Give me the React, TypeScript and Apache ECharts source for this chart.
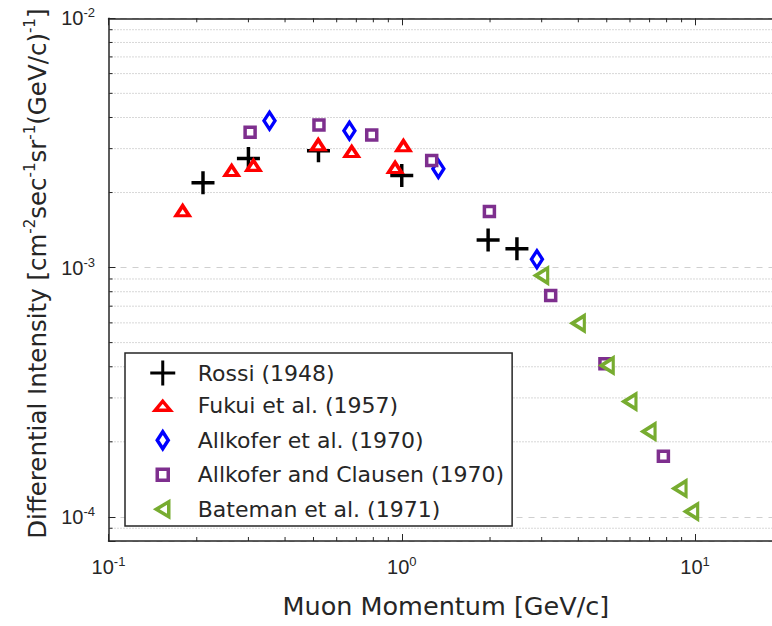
import React, { useEffect, useRef } from 'react';
import * as echarts from 'echarts';

// ---- data ----
const seriesNames = [
  'Rossi (1948)',
  'Fukui et al. (1957)',
  'Allkofer et al. (1970)',
  'Allkofer and Clausen (1970)',
  'Bateman et al. (1971)',
];

const rossiX = [0.21, 0.30, 0.52, 1.0, 1.97, 2.47];
const rossiY = [2.19e-3, 2.74e-3, 2.94e-3, 2.34e-3, 1.29e-3, 1.19e-3];

const fukuiX = [0.179, 0.263, 0.312, 0.519, 0.675, 0.949, 1.013];
const fukuiY = [1.69e-3, 2.45e-3, 2.57e-3, 3.11e-3, 2.92e-3, 2.52e-3, 3.08e-3];

const allkoferX = [0.354, 0.663, 1.333, 2.89];
const allkoferY = [3.88e-3, 3.54e-3, 2.49e-3, 1.08e-3];

const clausenX = [0.304, 0.522, 0.79, 1.265, 1.99, 3.22, 4.93, 7.8];
const clausenY = [3.49e-3, 3.73e-3, 3.4e-3, 2.69e-3, 1.68e-3, 7.72e-4, 4.11e-4, 1.75e-4];

const batemanX = [3.0, 4.0, 5.02, 6.0, 6.97, 8.89, 9.74];
const batemanY = [9.29e-4, 5.98e-4, 4.05e-4, 2.9e-4, 2.2e-4, 1.3e-4, 1.05e-4];

// minor tick positions of the log axes
const xMinorTicks = [0.2, 0.3, 0.4, 0.5, 0.6, 0.7, 0.8, 0.9, 2, 3, 4, 5, 6, 7, 8, 9];
const yMinorTicks = [
  9e-5,
  2e-4, 3e-4, 4e-4, 5e-4, 6e-4, 7e-4, 8e-4, 9e-4,
  2e-3, 3e-3, 4e-3, 5e-3, 6e-3, 7e-3, 8e-3, 9e-3,
];

const xRange = [0.1, 20];
const yRange = [8e-5, 1e-2];

// ---- styles ----
const TEXT = '#262626';
const TITLE_FONT = 'DejaVu Sans';
const TICK_FONT = 'Liberation Sans, Arial, sans-serif';
const STROKE = 3.5;

const zip = (xs: number[], ys: number[]) => xs.map((x, i) => [x, ys[i]]);

const PLUS = 'path://M0,8.5H8.5V0H11.5V8.5H20V11.5H11.5V20H8.5V11.5H0Z';

const powLabel = (v: number) => {
  const l = Math.log10(v);
  const e = Math.round(l);
  if (Math.abs(l - e) > 1e-6) return '';
  return `{b|10}{s|${e}}`;
};

const tickRich = {
  b: { fontFamily: TICK_FONT, fontSize: 20, lineHeight: 24, color: TEXT },
  s: { fontFamily: TICK_FONT, fontSize: 13, lineHeight: 12, verticalAlign: 'top', color: TEXT },
};

const titleRich = {
  b: { fontFamily: TITLE_FONT, fontSize: 24.5, lineHeight: 30, color: TEXT },
  s: { fontFamily: TITLE_FONT, fontSize: 15, lineHeight: 16, verticalAlign: 'top', color: TEXT },
};

const yTitle =
  '{b|Differential Intensity [cm}{s|-2}{b|sec}{s|-1}{b|sr}{s|-1}{b|(GeV/c)}{s|-1}{b|]}';

export default function App() {
  const ref = useRef<HTMLDivElement>(null);

  useEffect(() => {
    const chart = echarts.init(ref.current!, null, { renderer: 'svg' });

    const option: any = {
      animation: false,
      backgroundColor: '#fff',
      grid: { left: 108.5, top: 18.3, right: 16.7, bottom: 84.8, containLabel: false },
      legend: {
        orient: 'vertical',
        left: 125,
        top: 353,
        padding: [7, 8, 2, 23],
        itemGap: 5,
        itemWidth: 60,
        itemHeight: 26,
        borderColor: TEXT,
        borderWidth: 1.5,
        backgroundColor: '#fff',
        z: 10,
        selectedMode: false,
        textStyle: { fontFamily: TITLE_FONT, fontSize: 22, lineHeight: 26, color: TEXT },
        data: [
          {
            name: seriesNames[0],
            icon: 'path://M0,0M26,26M0.5,11.5H11.5V0.5H14.5V11.5H25.5V14.5H14.5V25.5H11.5V14.5H0.5Z',
            itemStyle: { borderWidth: 0 },
          },
          { name: seriesNames[1], icon: 'path://M0,0M26,26M13,8.5L20.5,17.5L5.5,17.5Z', itemStyle: { borderWidth: STROKE } },
          { name: seriesNames[2], icon: 'path://M0,0M26,26M13,4.5L18.5,13L13,21.5L7.5,13Z', itemStyle: { borderWidth: STROKE } },
          { name: seriesNames[3], icon: 'path://M0,0M26,26M7.5,7.5H18.5V18.5H7.5Z', itemStyle: { borderWidth: STROKE } },
          { name: seriesNames[4], icon: 'path://M0,0M26,26M6.5,13L19,5.5L19,20.5Z', itemStyle: { borderWidth: STROKE } },
        ],
      },
      xAxis: [
        {
          type: 'log',
          logBase: 10,
          min: xRange[0],
          max: xRange[1],
          position: 'bottom',
          axisLine: { lineStyle: { color: TEXT, width: 1.5 } },
          axisTick: { inside: true, length: 7, lineStyle: { color: TEXT, width: 1 } },
          axisLabel: { formatter: powLabel, margin: 14, color: TEXT, rich: tickRich },
          splitLine: { show: false },
          name: 'Muon Momentum [GeV/c]',
          nameLocation: 'middle',
          nameGap: 50,
          nameTextStyle: { fontFamily: TITLE_FONT, fontSize: 25.5, lineHeight: 30, color: TEXT },
        },
        {
          type: 'log',
          logBase: 10,
          min: xRange[0],
          max: xRange[1],
          position: 'top',
          axisLine: { lineStyle: { color: TEXT, width: 1.5 } },
          axisTick: { inside: true, length: 7, lineStyle: { color: TEXT, width: 1 } },
          axisLabel: { show: false },
          splitLine: { show: false },
        },
      ],
      yAxis: [
        {
          type: 'log',
          logBase: 10,
          min: yRange[0],
          max: yRange[1],
          axisLine: { lineStyle: { color: TEXT, width: 1.5 } },
          axisTick: { inside: true, length: 7, lineStyle: { color: TEXT, width: 1 } },
          axisLabel: { formatter: powLabel, margin: 13.5, color: TEXT, rich: tickRich },
          splitLine: { show: true, lineStyle: { color: '#cfcfcf', width: 1, type: [6, 6] } },
          name: yTitle,
          nameLocation: 'middle',
          nameRotate: 90,
          nameGap: 47,
          nameTextStyle: { rich: titleRich, padding: [0, 0, 0, 12] },
        },
      ],
      series: [
        {
          type: 'custom',
          name: 'yMinor',
          silent: true,
          z: 1,
          data: yMinorTicks.map((v) => [1, v]),
          renderItem: (params: any, api: any) => {
            const cs = params.coordSys;
            const p = api.coord([api.value(0), api.value(1)]);
            return {
              type: 'group',
              children: [
                {
                  type: 'line',
                  shape: { x1: cs.x, y1: p[1], x2: cs.x + cs.width, y2: p[1] },
                  style: { stroke: '#b0b0b0', lineWidth: 1, lineDash: [1, 2] },
                },
                {
                  type: 'line',
                  shape: { x1: cs.x, y1: p[1], x2: cs.x + 4, y2: p[1] },
                  style: { stroke: TEXT, lineWidth: 1 },
                },
              ],
            };
          },
        },
        {
          type: 'custom',
          name: 'xMinor',
          silent: true,
          z: 1,
          data: xMinorTicks.map((v) => [v, 1e-3]),
          renderItem: (params: any, api: any) => {
            const cs = params.coordSys;
            const p = api.coord([api.value(0), api.value(1)]);
            return {
              type: 'group',
              children: [
                {
                  type: 'line',
                  shape: { x1: p[0], y1: cs.y + cs.height, x2: p[0], y2: cs.y + cs.height - 4 },
                  style: { stroke: TEXT, lineWidth: 1 },
                },
                {
                  type: 'line',
                  shape: { x1: p[0], y1: cs.y, x2: p[0], y2: cs.y + 4 },
                  style: { stroke: TEXT, lineWidth: 1 },
                },
              ],
            };
          },
        },
        {
          name: seriesNames[0],
          type: 'scatter',
          z: 3,
          data: zip(rossiX, rossiY),
          symbol: PLUS,
          symbolSize: 23,
          itemStyle: { color: '#000', opacity: 1 },
        },
        {
          name: seriesNames[1],
          type: 'scatter',
          z: 3,
          data: zip(fukuiX, fukuiY),
          symbol: 'triangle',
          symbolSize: [13, 10],
          itemStyle: { color: '#fff', borderColor: '#ff0000', borderWidth: STROKE, opacity: 1 },
        },
        {
          name: seriesNames[2],
          type: 'scatter',
          z: 3,
          data: zip(allkoferX, allkoferY),
          symbol: 'diamond',
          symbolSize: [11, 17],
          itemStyle: { color: '#fff', borderColor: '#0000ff', borderWidth: STROKE, opacity: 1 },
        },
        {
          name: seriesNames[3],
          type: 'scatter',
          z: 3,
          data: zip(clausenX, clausenY),
          symbol: 'rect',
          symbolSize: 10,
          itemStyle: { color: '#fff', borderColor: '#7e2f8e', borderWidth: STROKE, opacity: 1 },
        },
        {
          name: seriesNames[4],
          type: 'scatter',
          z: 3,
          data: zip(batemanX, batemanY),
          symbol: 'triangle',
          symbolRotate: 90,
          symbolSize: [15, 12],
          itemStyle: { color: '#fff', borderColor: '#77ac30', borderWidth: STROKE, opacity: 1 },
        },
      ],
    };

    chart.setOption(option);
    return () => chart.dispose();
  }, []);

  return (
    <div
      style={{
        position: 'fixed',
        left: 0,
        top: 0,
        width: 772,
        height: 626,
        overflow: 'hidden',
        background: '#fff',
      }}
    >
      <div ref={ref} style={{ width: 800, height: 626 }} />
    </div>
  );
}
